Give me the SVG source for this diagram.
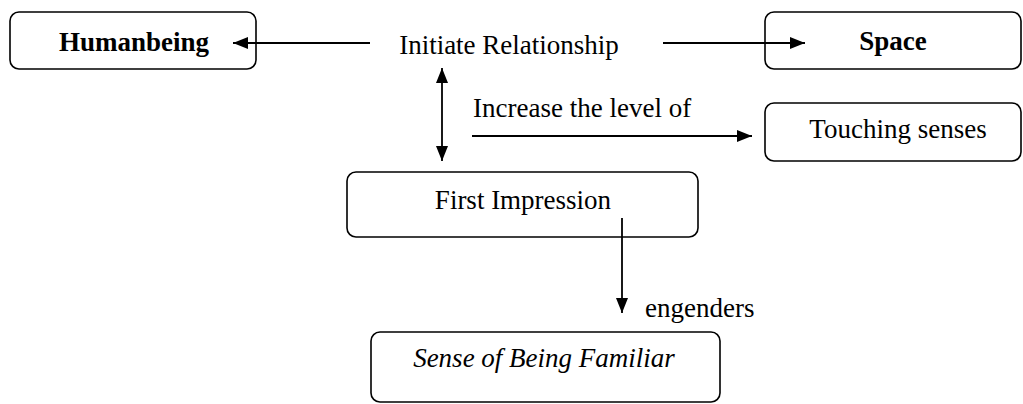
<svg xmlns="http://www.w3.org/2000/svg" width="1023" height="404" viewBox="0 0 1023 404">
  <style>
    .box { fill: #fff; stroke: #000; stroke-width: 1.6; }
    .lbl { font-family: "Liberation Serif", "Times New Roman", serif; font-size: 27px; fill: #000; }
    .b { font-weight: bold; }
    .it { font-style: italic; }
    .edge { stroke: #000; stroke-width: 1.8; fill: none; }
  </style>
  <defs>
    <marker id="head" markerWidth="16" markerHeight="12" refX="15" refY="6" orient="auto" markerUnits="userSpaceOnUse">
      <path d="M0,0 L15,6 L0,12 Z" fill="#000"/>
    </marker>
    <marker id="headStart" markerWidth="16" markerHeight="12" refX="15" refY="6" orient="auto-start-reverse" markerUnits="userSpaceOnUse">
      <path d="M0,0 L15,6 L0,12 Z" fill="#000"/>
    </marker>
  </defs>
  <rect width="1023" height="404" fill="#fff"/>

  <g id="humanbeing">
    <rect class="box" x="10" y="12" width="246" height="57" rx="9"/>
    <text class="lbl b" x="134" y="51" text-anchor="middle">Humanbeing</text>
  </g>

  <g id="initiate">
    <text class="lbl" x="509" y="54" text-anchor="middle">Initiate Relationship</text>
  </g>

  <g id="space">
    <rect class="box" x="765" y="12" width="256" height="57" rx="9"/>
    <text class="lbl b" x="893" y="50" text-anchor="middle">Space</text>
  </g>

  <g id="touching">
    <rect class="box" x="765" y="103" width="256" height="58" rx="9"/>
    <text class="lbl" x="898" y="138" text-anchor="middle">Touching senses</text>
  </g>

  <g id="first-impression">
    <rect class="box" x="347" y="172" width="351" height="65" rx="9"/>
    <text class="lbl" x="523" y="209" text-anchor="middle">First Impression</text>
  </g>

  <g id="familiar">
    <rect class="box" x="371" y="332" width="349" height="70" rx="9"/>
    <text class="lbl it" x="544" y="367" text-anchor="middle">Sense of Being Familiar</text>
  </g>

  <g id="connectors">
    <line class="edge" x1="370" y1="43" x2="233" y2="43" marker-end="url(#head)"/>
    <line class="edge" x1="663" y1="43" x2="805" y2="43" marker-end="url(#head)"/>
    <line class="edge" x1="442" y1="68" x2="442" y2="161" marker-start="url(#headStart)" marker-end="url(#head)"/>
    <line class="edge" x1="472" y1="136" x2="752" y2="136" marker-end="url(#head)"/>
    <line class="edge" x1="622" y1="218" x2="622" y2="313" marker-end="url(#head)"/>
    <text class="lbl" x="473" y="117">Increase the level of</text>
    <text class="lbl" x="645" y="317">engenders</text>
  </g>
</svg>
